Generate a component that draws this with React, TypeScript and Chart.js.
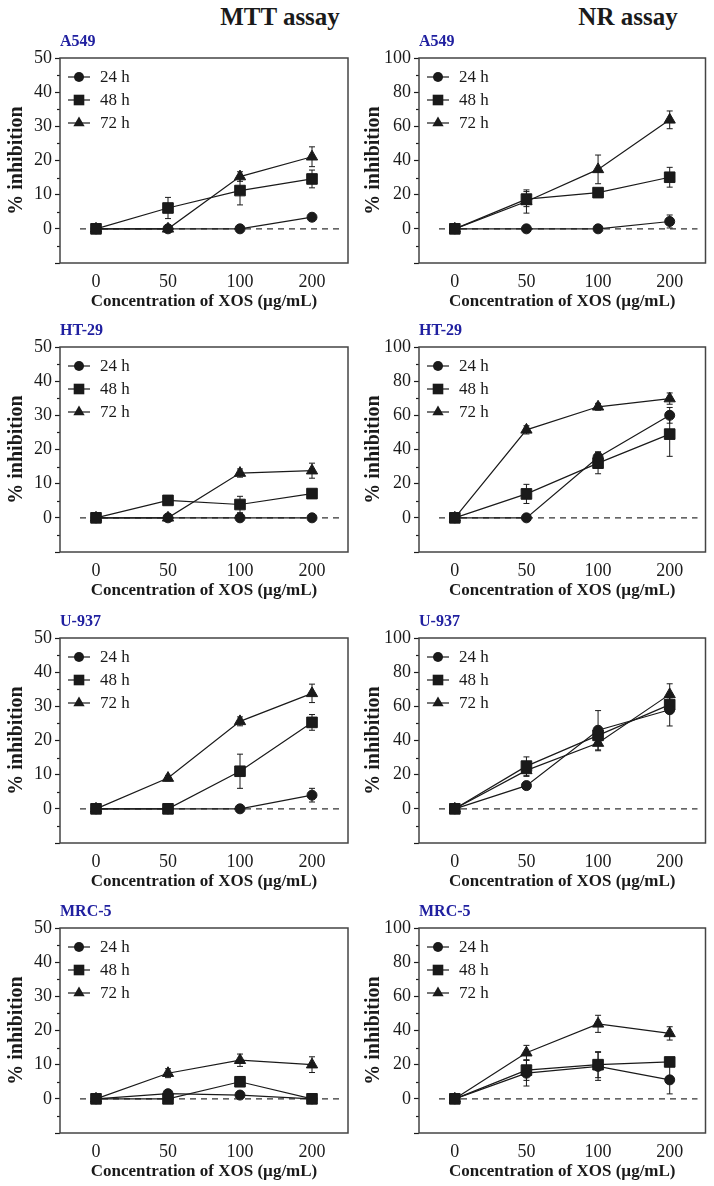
import React, { useEffect, useRef } from 'react';
import { Chart, registerables } from 'chart.js';

Chart.register(...registerables);

// ---------- data ----------
const doses = ['0', '50', '100', '200'];
const timeLabels = ['24 h', '48 h', '72 h'];
const cellLines = ['A549', 'HT-29', 'U-937', 'MRC-5'];
const assayTitles = ['MTT assay', 'NR assay'];
const xTitle = 'Concentration of XOS (µg/mL)';
const yTitle = '% inhibition';

// y axis: [min, max, minorStep, labelStep]
const mttAxis = [-10, 50, 5, 10];
const nrAxis = [-20, 100, 10, 20];

// series order: 24 h, 48 h, 72 h
const mttA549 = [[0, 0, 0, 3.4], [0, 6.1, 11.2, 14.6], [0, 0, 15.3, 21.1]];
const mttA549Err = [[0, 0, 0, 0.8], [0, 3.1, 4.2, 2.6], [0, 0, 1.4, 2.9]];
const nrA549 = [[0, 0, 0, 4.3], [0, 17.4, 21.2, 30.2], [0, 16, 34.8, 63.8]];
const nrA549Err = [[0, 0, 0, 3.8], [0, 4.4, 2.2, 5.8], [0, 6.8, 8.4, 5.2]];

const mttHT29 = [[0, 0, 0, 0], [0, 5.1, 3.9, 7.1], [0, 0, 13.1, 13.8]];
const mttHT29Err = [[0, 0, 0, 0], [0, 0.8, 2.4, 0.8], [0, 0, 1.2, 2.2]];
const nrHT29 = [[0, 0, 35.5, 60], [0, 14, 32, 49], [0, 51.5, 65, 69.8]];
const nrHT29Err = [[0, 0, 3.2, 4.6], [0, 5.6, 6.2, 13], [0, 2.4, 2, 3.3]];

const mttU937 = [[0, 0, 0, 4], [0, 0, 11, 25.3], [0, 9, 25.6, 33.8]];
const mttU937Err = [[0, 0, 0, 2], [0, 0, 5, 2.3], [0, 0.8, 1.3, 2.7]];
const nrU937 = [[0, 13.6, 46, 58], [0, 25, 43, 61], [0, 22.5, 38.5, 67]];
const nrU937Err = [[0, 1, 11.5, 9.5], [0, 5.4, 4, 4], [0, 3.5, 4.5, 6.2]];

const mttMRC5 = [[0, 1.5, 1.1, 0], [0, 0, 5, 0], [0, 7.5, 11.3, 10]];
const mttMRC5Err = [[0, 0.4, 0.4, 0], [0, 0, 0.8, 0], [0, 1.3, 1.8, 2.3]];
const nrMRC5 = [[0, 15, 19, 11.1], [0, 16.8, 20, 21.6], [0, 27, 43.9, 38.3]];
const nrMRC5Err = [[0, 7.5, 8.2, 8.2], [0, 6, 7.6, 1], [0, 4.3, 5, 3.9]];

// ---------- styles ----------
const SERIF = '"Liberation Serif", "Times New Roman", serif';
const INK = '#1a1a1a';
const LABEL_BLUE = '#2020a0';
const pointStyles = ['circle', 'rect', 'triangle'];
const pointRadii = [5, 7.5, 6.5];

const panels = [
  { row: 0, col: 0, cell: 0, axis: mttAxis, values: mttA549, errors: mttA549Err },
  { row: 0, col: 1, cell: 0, axis: nrAxis, values: nrA549, errors: nrA549Err },
  { row: 1, col: 0, cell: 1, axis: mttAxis, values: mttHT29, errors: mttHT29Err },
  { row: 1, col: 1, cell: 1, axis: nrAxis, values: nrHT29, errors: nrHT29Err },
  { row: 2, col: 0, cell: 2, axis: mttAxis, values: mttU937, errors: mttU937Err },
  { row: 2, col: 1, cell: 2, axis: nrAxis, values: nrU937, errors: nrU937Err },
  { row: 3, col: 0, cell: 3, axis: mttAxis, values: mttMRC5, errors: mttMRC5Err },
  { row: 3, col: 1, cell: 3, axis: nrAxis, values: nrMRC5, errors: nrMRC5Err },
];

const boxTops = [58, 347, 638, 928];
const CANVAS_W = 357;
const CANVAS_H = 285;
const ABOVE = 30; // space above plot box inside canvas (for cell label)

function drawMarker(ctx: CanvasRenderingContext2D, style: string, x: number, y: number, r: number) {
  ctx.beginPath();
  if (style === 'circle') {
    ctx.arc(x, y, r, 0, Math.PI * 2);
  } else if (style === 'rect') {
    const s = Math.SQRT1_2 * r;
    ctx.rect(x - s, y - s, 2 * s, 2 * s);
  } else {
    ctx.moveTo(x, y - r);
    ctx.lineTo(x + 0.866 * r, y + 0.5 * r);
    ctx.lineTo(x - 0.866 * r, y + 0.5 * r);
    ctx.closePath();
  }
  ctx.fill();
}

const panelPlugin = {
  id: 'panelDecor',
  beforeDatasetsDraw(chart: any) {
    const { ctx, chartArea: a } = chart;
    const y = chart.scales.y;
    const major = chart.options.plugins.panelDecor.major;
    ctx.save();
    // dashed zero line
    const y0 = y.getPixelForValue(0);
    ctx.strokeStyle = '#333';
    ctx.lineWidth = 1.2;
    ctx.setLineDash([6, 5]);
    ctx.beginPath();
    ctx.moveTo(a.left + 20, y0);
    ctx.lineTo(a.right - 8, y0);
    ctx.stroke();
    ctx.setLineDash([]);
    // minor ticks
    ctx.strokeStyle = INK;
    ctx.lineWidth = 1.2;
    y.ticks.forEach((t: any) => {
      if (Math.abs(t.value % major) > 1e-9) {
        const py = Math.round(y.getPixelForValue(t.value)) + 0.5;
        ctx.beginPath();
        ctx.moveTo(a.left - 3, py);
        ctx.lineTo(a.left, py);
        ctx.stroke();
      }
    });
    // error bars
    ctx.strokeStyle = INK;
    ctx.lineWidth = 1;
    chart.data.datasets.forEach((ds: any, di: number) => {
      const meta = chart.getDatasetMeta(di);
      meta.data.forEach((pt: any, i: number) => {
        const e = ds.errors[i];
        if (!e) return;
        const v = ds.data[i];
        const yt = y.getPixelForValue(v + e);
        const yb = y.getPixelForValue(v - e);
        const x = pt.x;
        ctx.beginPath();
        ctx.moveTo(x, yt);
        ctx.lineTo(x, yb);
        ctx.moveTo(x - 3, yt);
        ctx.lineTo(x + 3, yt);
        ctx.moveTo(x - 3, yb);
        ctx.lineTo(x + 3, yb);
        ctx.stroke();
      });
    });
    ctx.restore();
  },
  afterDraw(chart: any) {
    const { ctx, chartArea: a } = chart;
    ctx.save();
    // frame
    ctx.strokeStyle = '#444';
    ctx.lineWidth = 1.5;
    ctx.strokeRect(a.left, a.top, a.right - a.left, a.bottom - a.top);
    // legend
    ctx.fillStyle = INK;
    ctx.strokeStyle = INK;
    ctx.font = '17px ' + SERIF;
    ctx.textBaseline = 'middle';
    ctx.textAlign = 'left';
    chart.data.datasets.forEach((ds: any, i: number) => {
      const ly = a.top + 19 + 23 * i;
      ctx.lineWidth = 1.2;
      ctx.beginPath();
      ctx.moveTo(a.left + 8, ly);
      ctx.lineTo(a.left + 30, ly);
      ctx.stroke();
      drawMarker(ctx, ds.pointStyle, a.left + 19, ly, ds.pointRadius);
      ctx.fillText(ds.label, a.left + 40, ly + 1);
    });
    ctx.restore();
  },
};

function Panel(props: { p: any }) {
  const ref = useRef<HTMLCanvasElement | null>(null);
  const p = props.p;
  useEffect(() => {
    if (!ref.current) return;
    const [yMin, yMax, minor, major] = p.axis;
    const isRight = p.col === 1;
    const chart = new Chart(ref.current, {
      type: 'line',
      data: {
        labels: doses,
        datasets: p.values.map((vals: number[], i: number) => ({
          label: timeLabels[i],
          data: vals,
          errors: p.errors[i],
          borderColor: INK,
          borderWidth: 1.2,
          backgroundColor: INK,
          pointStyle: pointStyles[i],
          pointRadius: pointRadii[i],
          pointBackgroundColor: INK,
          pointBorderColor: INK,
          pointBorderWidth: 1,
          tension: 0,
          fill: false,
        })) as any,
      },
      options: {
        responsive: false,
        animation: false,
        events: [],
        layout: { padding: { top: 0, right: isRight ? 8 : 9, bottom: 0, left: 0 } },
        plugins: {
          legend: { display: false },
          tooltip: { enabled: false },
          title: {
            display: true,
            text: cellLines[p.cell],
            align: 'start',
            fullSize: false,
            color: LABEL_BLUE,
            font: { family: SERIF, size: 16, weight: 'bold' },
            padding: { top: 4, bottom: 6.8 },
          },
          panelDecor: { major },
        } as any,
        scales: {
          x: {
            type: 'category',
            offset: true,
            grid: { display: false, drawTicks: false },
            border: { display: false },
            ticks: { color: INK, font: { family: SERIF, size: 18 }, padding: 8, maxRotation: 0, autoSkip: false },
            title: {
              display: true,
              text: xTitle,
              color: INK,
              font: { family: SERIF, size: 17, weight: 'bold' },
              padding: { top: 0, bottom: 1 },
            },
            afterFit: (s: any) => {
              s.height = 50;
            },
          },
          y: {
            type: 'linear',
            min: yMin,
            max: yMax,
            ticks: {
              stepSize: minor,
              autoSkip: false,
              color: INK,
              font: { family: SERIF, size: 18 },
              padding: 3,
              callback: (v: any) => (v >= 0 && v % major === 0 ? String(v) : ''),
            },
            grid: {
              drawOnChartArea: false,
              tickLength: 5,
              tickWidth: 1.2,
              tickColor: (c: any) =>
                c.tick && Math.abs(c.tick.value % major) < 1e-9 ? INK : 'rgba(0,0,0,0)',
            },
            border: { display: false },
            title: {
              display: true,
              text: yTitle,
              color: INK,
              font: { family: SERIF, size: 20, weight: 'bold' },
              padding: { top: 5, bottom: 0 },
            },
            afterFit: (s: any) => {
              s.width = isRight ? 62 : 60;
            },
          },
        },
      } as any,
      plugins: [panelPlugin as any],
    });
    return () => chart.destroy();
  }, []);
  return (
    <canvas
      ref={ref}
      width={CANVAS_W}
      height={CANVAS_H}
      style={{
        position: 'absolute',
        left: p.col * CANVAS_W,
        top: boxTops[p.row] - ABOVE,
        width: CANVAS_W,
        height: CANVAS_H,
      }}
    />
  );
}

export default function App() {
  const headerCenters = [280, 628];
  return (
    <div style={{ position: 'absolute', left: 0, top: 0, width: 714, height: 1186, background: '#fff' }}>
      {assayTitles.map((t, i) => (
        <div
          key={t}
          style={{
            position: 'absolute',
            left: headerCenters[i] - 120,
            width: 240,
            top: 2,
            lineHeight: '30px',
            textAlign: 'center',
            fontFamily: SERIF,
            fontWeight: 'bold',
            fontSize: 25,
            color: INK,
          }}
        >
          {t}
        </div>
      ))}
      {panels.map((p, i) => (
        <Panel key={i} p={p} />
      ))}
    </div>
  );
}
